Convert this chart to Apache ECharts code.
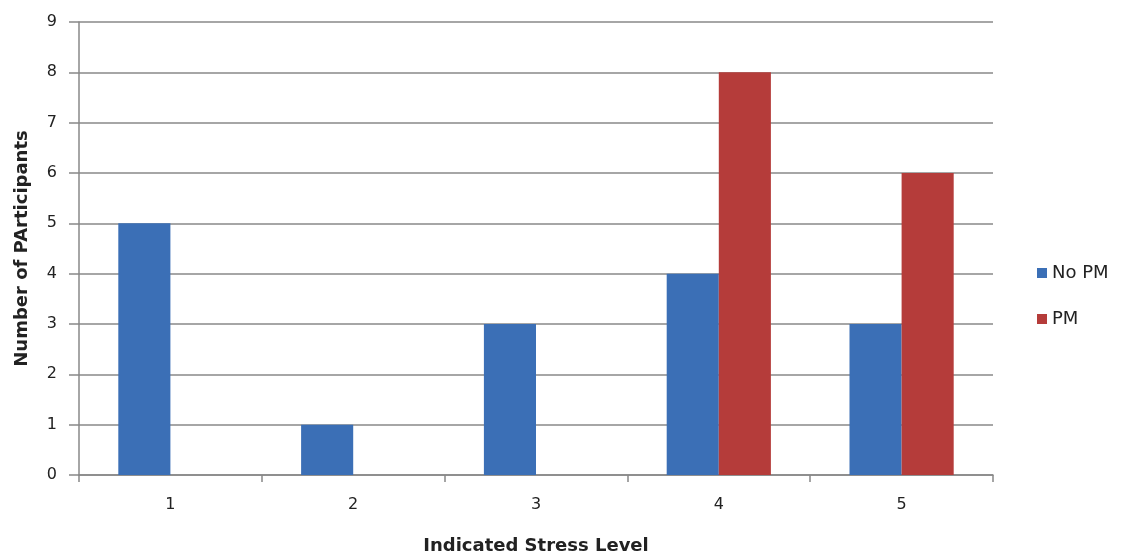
<!DOCTYPE html>
<html><head><meta charset="utf-8">
<script src="https://cdn.jsdelivr.net/npm/echarts@6/dist/echarts.min.js"></script>
<style>html,body{margin:0;padding:0;background:#fff}#c{width:1128px;height:560px}</style>
</head><body><div id="c"></div>
<script>
var categories = ['1','2','3','4','5'];
var noPM = [5, 1, 3, 4, 3];
var pm = [0, 0, 0, 8, 6];
var seriesNames = ['No PM', 'PM'];

var font = 'DejaVu Sans';
var chart = echarts.init(document.getElementById('c'));
chart.setOption({
  animation: false,
  textStyle: {fontFamily: font},
  grid: {left: 79, right: 135, top: 22, bottom: 83, containLabel: false},
  legend: {
    orient: 'vertical', left: 1032, top: 259, itemWidth: 10, itemHeight: 10, itemGap: 28,
    icon: 'rect',
    textStyle: {fontSize: 18, color: '#222', fontFamily: font},
    data: seriesNames
  },
  xAxis: {
    type: 'category', data: categories,
    name: 'Indicated Stress Level', nameLocation: 'middle', nameGap: 62,
    nameTextStyle: {fontSize: 18, fontWeight: 'bold', color: '#222', fontFamily: font},
    axisLine: {lineStyle: {color: '#888', width: 1.5}},
    axisTick: {show: true, alignWithLabel: false, length: 7, lineStyle: {color: '#888', width: 1.5}},
    axisLabel: {fontSize: 16, color: '#222', margin: 22, fontFamily: font}
  },
  yAxis: {
    type: 'value', min: 0, max: 9, interval: 1,
    name: 'Number of PArticipants', nameLocation: 'middle', nameGap: 48, nameRotate: 90,
    nameTextStyle: {fontSize: 18, fontWeight: 'bold', color: '#222', fontFamily: font},
    axisLine: {show: true, lineStyle: {color: '#888', width: 1.5}},
    axisTick: {show: true, length: 10, lineStyle: {color: '#888', width: 1.5}},
    axisLabel: {fontSize: 16, color: '#222', margin: 22, fontFamily: font},
    splitLine: {lineStyle: {color: '#888', width: 1.5}}
  },
  series: [
    {name: seriesNames[0], type: 'bar', data: noPM, barGap: '0%', barCategoryGap: '43%', itemStyle: {color: '#3b6fb6'}},
    {name: seriesNames[1], type: 'bar', data: pm, barGap: '0%', barCategoryGap: '43%', itemStyle: {color: '#b53c3a'}}
  ]
});
</script></body></html>
